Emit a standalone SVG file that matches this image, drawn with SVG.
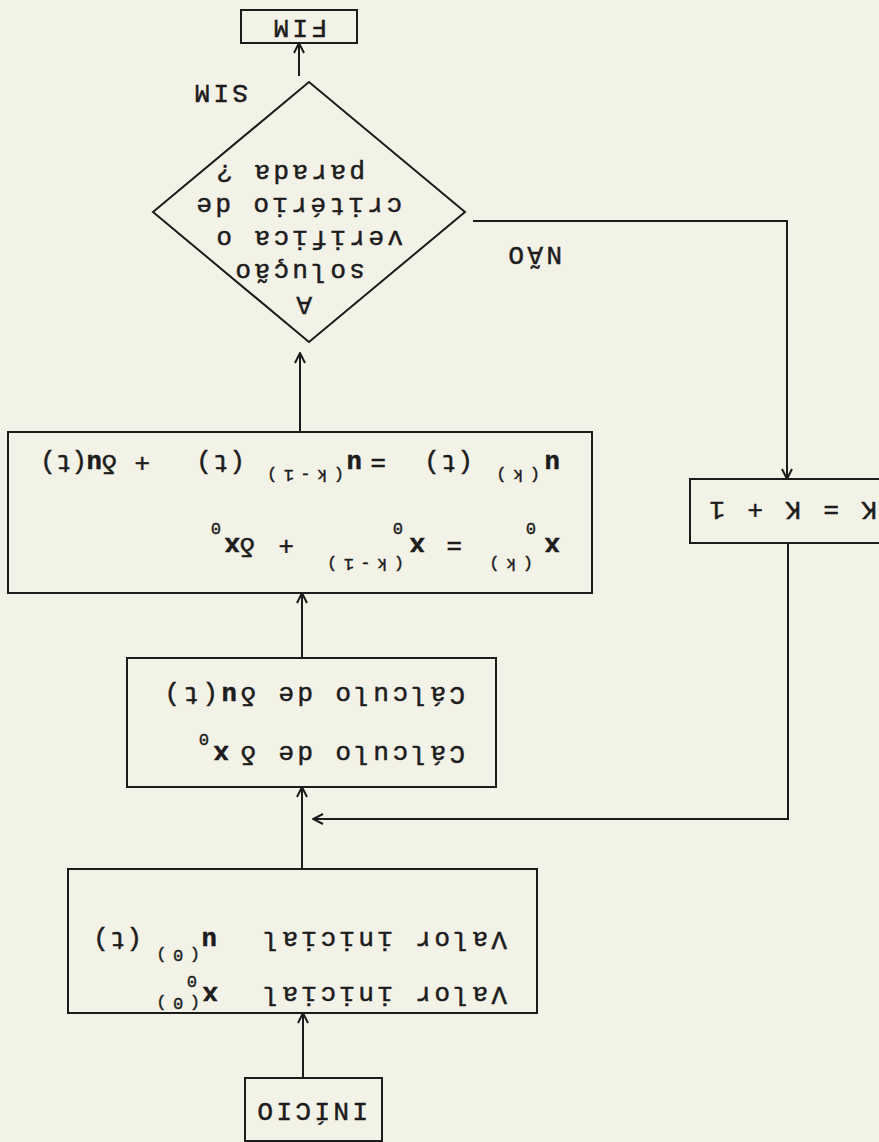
<svg xmlns="http://www.w3.org/2000/svg" width="879" height="1142" viewBox="0 0 879 1142">
  <style>
    .box { fill: none; stroke: #1c1c1c; stroke-width: 2; }
    .wire { fill: none; stroke: #1c1c1c; stroke-width: 2; }
    .t, .f, .s { font-family: "Liberation Mono", "DejaVu Sans Mono", monospace; fill: #1c1c1c; stroke: #1c1c1c; stroke-width: 0.5; }
    .t { font-size: 26px; letter-spacing: 3.4px; }
    .f { font-size: 26px; letter-spacing: 1px; }
    .s { font-size: 17px; letter-spacing: 6.5px; stroke-width: 0.4; }
    .b { font-weight: bold; }
  </style>
  <defs>
    <marker id="arrow" viewBox="0 0 12 12" refX="11" refY="6" markerWidth="12" markerHeight="12" markerUnits="userSpaceOnUse" orient="auto">
      <path d="M1,1 L11,6 L1,11" fill="none" stroke="#1c1c1c" stroke-width="2"/>
    </marker>
  </defs>
  <rect width="879" height="1142" fill="#f3f2e7"/>

  <!-- the whole flowchart is laid out top-down and turned half a revolution -->
  <g transform="rotate(180 439.5 571)">

    <g id="connectors">
      <path class="wire" d="M576,64 V129" marker-end="url(#arrow)"/>
      <path class="wire" d="M577,273 V355" marker-end="url(#arrow)"/>
      <path class="wire" d="M577,484 V549" marker-end="url(#arrow)"/>
      <path class="wire" d="M579,710 V789" marker-end="url(#arrow)"/>
      <path class="wire" d="M580,1066 V1099" marker-end="url(#arrow)"/>
      <path class="wire" d="M406,921 H92 V663" marker-end="url(#arrow)"/>
      <path class="wire" d="M91,599 V323 H566" marker-end="url(#arrow)"/>
    </g>

    <g id="inicio">
      <rect class="box" x="497" y="1" width="137" height="63"/>
      <text class="t" x="511" y="39">INÍCIO</text>
    </g>

    <g id="valor-inicial">
      <rect class="box" x="342" y="129" width="469" height="144"/>
      <text class="t" x="372" y="155">Valor inicial</text>
      <text class="f b" x="661" y="155">x</text>
      <text class="s" x="682" y="166">0</text>
      <text class="s" x="679" y="144">(0)</text>
      <text class="t" x="372" y="210">Valor inicial</text>
      <text class="f b" x="662" y="210">u</text>
      <text class="s" x="679" y="192">(0)</text>
      <text class="f" x="737" y="210">(t)</text>
    </g>

    <g id="calculo">
      <rect class="box" x="383" y="355" width="369" height="129"/>
      <text class="t" x="414" y="396">Cálculo de δ</text>
      <text class="f b" x="650" y="396">x</text>
      <text class="s" x="670" y="408">0</text>
      <text class="t" x="414" y="455">Cálculo de δ<tspan class="b">u</tspan>(t)</text>
    </g>

    <g id="atualizacao">
      <rect class="box" x="287" y="549" width="584" height="161"/>
      <!-- x0(k) = x0(k-1) + dx0 -->
      <text class="f b" x="319" y="604">x</text>
      <text class="s" x="343" y="619">0</text>
      <text class="s" x="346" y="583">(k)</text>
      <text class="f" x="417" y="604">=</text>
      <text class="f b" x="454" y="604">x</text>
      <text class="s" x="476" y="619">0</text>
      <text class="s" x="475" y="583">(k-1)</text>
      <text class="f" x="585" y="604">+</text>
      <text class="f" x="624" y="604">δ</text>
      <text class="f b" x="639" y="604">x</text>
      <text class="s" x="658" y="619">0</text>
      <!-- u(k)(t) = u(k-1)(t) + du(t) -->
      <text class="f b" x="319" y="687">u</text>
      <text class="s" x="339" y="672">(k)</text>
      <text class="f" x="406" y="687">(t)</text>
      <text class="f" x="493" y="687">=</text>
      <text class="f b" x="517" y="687">u</text>
      <text class="s" x="535" y="672">(k-1)</text>
      <text class="f" x="634" y="687">(t)</text>
      <text class="f" x="729" y="687">+</text>
      <text class="f" x="762" y="687">δ</text>
      <text class="f b" x="777" y="687">u</text>
      <text class="f" x="792" y="687" style="letter-spacing:0">(t)</text>
    </g>

    <g id="criterio">
      <polygon class="box" points="570,800 726,930 570,1060 414,930"/>
      <text class="t" x="567" y="845">A</text>
      <text class="t" x="514" y="878">solução</text>
      <text class="t" x="476" y="911">verifica o</text>
      <text class="t" x="477" y="944">critério de</text>
      <text class="t" x="514" y="977">parada ?</text>
    </g>

    <g id="rotulos">
      <text class="t" x="317" y="895">NÃO</text>
      <text class="t" x="631" y="1057">SIM</text>
    </g>

    <g id="incremento">
      <rect class="box" x="-3" y="599" width="192" height="64"/>
      <text class="t" x="2" y="640">K = K + 1</text>
    </g>

    <g id="fim">
      <rect class="box" x="522" y="1099" width="116" height="33"/>
      <text class="t" x="552" y="1122">FIM</text>
    </g>
  </g>
</svg>
